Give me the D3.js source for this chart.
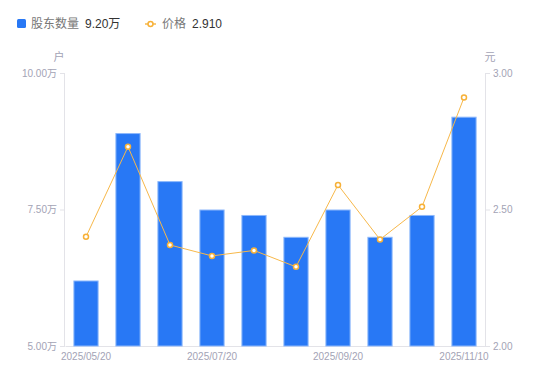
<!DOCTYPE html>
<html><head><meta charset="utf-8">
<script src="https://cdn.jsdelivr.net/npm/d3@7"></script>
<style>body{margin:0;background:#fff;}svg{display:block;font-family:"Noto Sans CJK SC","Noto Sans",sans-serif;}</style>
</head><body>
<svg id="c" width="550" height="381"></svg>
<script>
const categories = ["2025/05/20","2025/05/31","2025/06/30","2025/07/20","2025/07/31","2025/08/20","2025/09/20","2025/09/30","2025/10/20","2025/11/10"];
const holders = [6.20, 8.90, 8.02, 7.50, 7.40, 7.00, 7.50, 7.00, 7.40, 9.20];
const prices = [2.40, 2.73, 2.37, 2.33, 2.35, 2.29, 2.59, 2.39, 2.51, 2.91];
const leftTicks = [5, 7.5, 10];
const rightTicks = [2, 2.5, 3];
const shownLabels = ["2025/05/20","2025/07/20","2025/09/20","2025/11/10"];

const svg = d3.select("#c");
const L = 65, R = 485, T = 73, B = 346;
const x = d3.scaleBand().domain(categories).range([L, R]).paddingInner(0.4).paddingOuter(0.2);
const yL = d3.scaleLinear().domain([5, 10]).range([B, T]);
const yR = d3.scaleLinear().domain([2, 3]).range([B, T]);
const axisColor = "#e3e3e8", textColor = "#a3a3b5";
const numFont = "'Liberation Sans','Noto Sans CJK SC',sans-serif";

// left axis
const gl = svg.append("g").attr("transform", `translate(${L},0)`)
  .call(d3.axisLeft(yL).tickValues(leftTicks).tickSize(5).tickPadding(3).tickFormat(d => d3.format(".2f")(d) + "万"));
gl.select(".domain").attr("stroke", axisColor).attr("d", `M-0.5,${T}V${B}`);
gl.selectAll(".tick line").attr("stroke", axisColor);
gl.selectAll(".tick text").attr("fill", textColor).style("font-size", "10px").style("font-family", numFont);

// right axis
const gr = svg.append("g").attr("transform", `translate(${R},0)`)
  .call(d3.axisRight(yR).tickValues(rightTicks).tickSize(5).tickPadding(3).tickFormat(d3.format(".2f")));
gr.select(".domain").attr("stroke", axisColor).attr("d", `M0.5,${T}V${B}`);
gr.selectAll(".tick line").attr("stroke", axisColor);
gr.selectAll(".tick text").attr("fill", textColor).style("font-size", "10px").style("font-family", numFont);

// bottom axis
const gb = svg.append("g").attr("transform", `translate(0,${B})`)
  .call(d3.axisBottom(x).tickSize(0).tickPadding(7).tickFormat(d => shownLabels.includes(d) ? d : ""));
gb.select(".domain").attr("stroke", axisColor);
gb.selectAll(".tick text").attr("fill", textColor).style("font-size", "10px").style("font-family", numFont);

// axis titles
svg.append("text").attr("x", 59).attr("y", 61).attr("text-anchor", "middle").attr("fill", textColor).style("font-size", "11px").text("户");
svg.append("text").attr("x", 490).attr("y", 61).attr("text-anchor", "middle").attr("fill", textColor).style("font-size", "11px").text("元");

// bars
svg.append("g").selectAll("rect").data(holders).join("rect")
  .attr("x", (d, i) => x(categories[i]) + 0.5)
  .attr("y", d => yL(d) + 0.5)
  .attr("width", x.bandwidth() - 1)
  .attr("height", d => B - yL(d) - 0.5)
  .attr("fill", "#2878f5").attr("stroke", "#8db8fb").attr("stroke-width", 1);

// line
const cx = (i) => x(categories[i]) + x.bandwidth() / 2;
svg.append("path").datum(prices)
  .attr("d", d3.line().x((d, i) => cx(i)).y(d => yR(d)))
  .attr("fill", "none").attr("stroke", "#f7b84a").attr("stroke-width", 1);
svg.append("g").selectAll("circle").data(prices).join("circle")
  .attr("cx", (d, i) => cx(i)).attr("cy", d => yR(d)).attr("r", 2.5)
  .attr("fill", "#fff").attr("stroke", "#f7b138").attr("stroke-width", 1.5);

// legend
const lg = svg.append("g");
lg.append("rect").attr("x", 17).attr("y", 19).attr("width", 9).attr("height", 9).attr("rx", 1.5).attr("fill", "#2878f5");
lg.append("text").attr("x", 31).attr("y", 28).attr("fill", "#777").style("font-size", "12px").text("股东数量");
lg.append("text").attr("x", 85).attr("y", 28).attr("fill", "#333").style("font-size", "12px").style("font-family", numFont).text("9.20万");
lg.append("line").attr("x1", 145).attr("x2", 156).attr("y1", 24).attr("y2", 24).attr("stroke", "#f7b84a").attr("stroke-width", 1.5);
lg.append("circle").attr("cx", 150.5).attr("cy", 24).attr("r", 2.5).attr("fill", "#fff").attr("stroke", "#f7b138").attr("stroke-width", 1.5);
lg.append("text").attr("x", 162).attr("y", 28).attr("fill", "#777").style("font-size", "12px").text("价格");
lg.append("text").attr("x", 192).attr("y", 28).attr("fill", "#333").style("font-size", "12px").style("font-family", numFont).text("2.910");
</script>
</body></html>
